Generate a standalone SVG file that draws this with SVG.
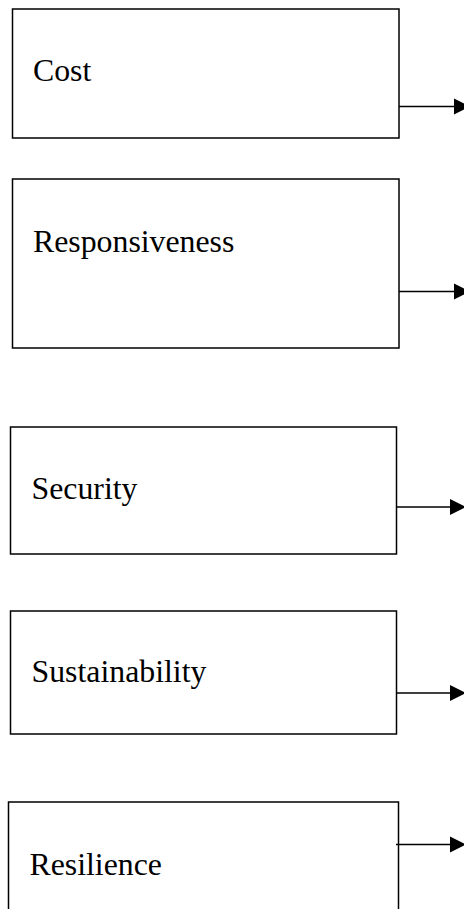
<svg xmlns="http://www.w3.org/2000/svg" width="464" height="909" viewBox="0 0 464 909">
  <style>
    .box { fill: #ffffff; stroke: #000000; stroke-width: 1.5; }
    .label { font-family: "Liberation Serif", "Times New Roman", serif; font-size: 31.8px; fill: #000000; }
    .conn { stroke: #000000; stroke-width: 1.5; fill: none; }
    .head { fill: #000000; stroke: none; }
  </style>
  <rect width="464" height="909" fill="#ffffff"/>
  <g id="node-cost">
    <rect class="box" x="12.5" y="9" width="386.5" height="129"/>
    <text class="label" x="33" y="81">Cost</text>
  </g>
  <g id="node-responsiveness">
    <rect class="box" x="12.5" y="179" width="386.5" height="169"/>
    <text class="label" x="33" y="252">Responsiveness</text>
  </g>
  <g id="node-security">
    <rect class="box" x="10.5" y="427" width="386" height="127"/>
    <text class="label" x="31.5" y="499">Security</text>
  </g>
  <g id="node-sustainability">
    <rect class="box" x="10.5" y="611" width="386" height="123"/>
    <text class="label" x="31.5" y="682">Sustainability</text>
  </g>
  <g id="node-resilience">
    <rect class="box" x="8.5" y="802" width="390" height="120"/>
    <text class="label" x="29.5" y="875">Resilience</text>
  </g>
  <g id="connectors">
    <line class="conn" x1="399" y1="106.5" x2="456" y2="106.5"/>
    <polygon class="head" points="454,98.5 470,106.5 454,114.5"/>
    <line class="conn" x1="399" y1="291.5" x2="456" y2="291.5"/>
    <polygon class="head" points="454,283.5 470,291.5 454,299.5"/>
    <line class="conn" x1="396.5" y1="507" x2="452" y2="507"/>
    <polygon class="head" points="450,499 466,507 450,515"/>
    <line class="conn" x1="396.5" y1="693" x2="452" y2="693"/>
    <polygon class="head" points="450,685 466,693 450,701"/>
    <line class="conn" x1="396" y1="844.5" x2="452" y2="844.5"/>
    <polygon class="head" points="450,836.5 466,844.5 450,852.5"/>
  </g>
</svg>
